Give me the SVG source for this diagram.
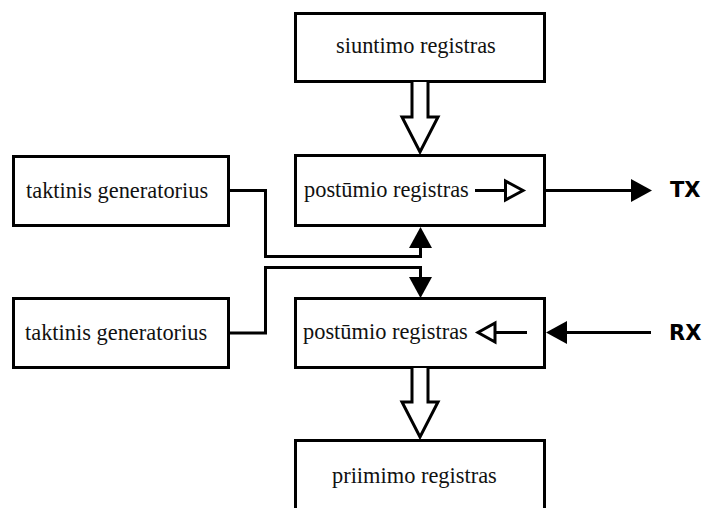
<svg xmlns="http://www.w3.org/2000/svg" width="706" height="508" viewBox="0 0 706 508">
  <style>
    .box { fill: #fff; stroke: #000; stroke-width: 3; }
    .lbl { font-family: "Liberation Serif", "Times New Roman", serif; font-size: 22.4px; fill: #111; }
    .sig { font-family: "DejaVu Sans", sans-serif; font-weight: bold; font-size: 21px; fill: #000; }
    .wire { fill: none; stroke: #000; stroke-width: 3; stroke-linejoin: miter; }
    .bus { fill: #fff; stroke: #000; stroke-width: 3; stroke-linejoin: miter; }
    .hollow { fill: #fff; stroke: #000; stroke-width: 3; stroke-linejoin: miter; }
  </style>
  <defs>
    <marker id="head" markerUnits="userSpaceOnUse" markerWidth="22" markerHeight="24" refX="0" refY="11.5" orient="auto">
      <path d="M0,0 L21,11.5 L0,23 z" fill="#000"/>
    </marker>
  </defs>

  <rect width="706" height="508" fill="#fff"/>

  <g id="siuntimo-registras">
    <rect class="box" x="295.5" y="13.5" width="249" height="68"/>
    <text class="lbl" x="336" y="53">siuntimo registras</text>
  </g>

  <g id="tx-postumio-registras">
    <rect class="box" x="295.5" y="155.5" width="249" height="70"/>
    <text class="lbl" x="304" y="197">postūmio registras</text>
    <line class="wire" x1="475" y1="190.5" x2="505" y2="190.5"/>
    <polygon class="hollow" points="505.5,181 523,190.5 505.5,200"/>
  </g>

  <g id="taktinis-generatorius-1">
    <rect class="box" x="13.5" y="156.5" width="215" height="69"/>
    <text class="lbl" x="26" y="198">taktinis generatorius</text>
  </g>

  <g id="taktinis-generatorius-2">
    <rect class="box" x="13.5" y="298.5" width="215" height="69"/>
    <text class="lbl" x="25" y="340">taktinis generatorius</text>
  </g>

  <g id="rx-postumio-registras">
    <rect class="box" x="295.5" y="298.5" width="249" height="69"/>
    <text class="lbl" x="303" y="339">postūmio registras</text>
    <line class="wire" x1="527" y1="332.5" x2="495" y2="332.5"/>
    <polygon class="hollow" points="495,323 478,332.5 495,342"/>
  </g>

  <g id="priimimo-registras">
    <path class="box" d="M295.5,512 V440.5 H544.5 V512"/>
    <text class="lbl" x="332" y="483">priimimo registras</text>
  </g>

  <g id="connectors">
    <!-- parallel buses -->
    <path class="bus" d="M412,82 V117 H402 L420,152 L438,117 H428 V82"/>
    <path class="bus" d="M412,368 V402 H402 L420,437 L438,402 H428 V368"/>
    <!-- clock lines -->
    <path class="wire" d="M228,190.5 H265.5 V256.5 H420.5 V248" marker-end="url(#head)"/>
    <path class="wire" d="M228,333 H265.5 V267.5 H420.5 V277" marker-end="url(#head)"/>
    <!-- serial lines -->
    <line class="wire" x1="545" y1="190.5" x2="631" y2="190.5" marker-end="url(#head)"/>
    <line class="wire" x1="651" y1="332.5" x2="567" y2="332.5" marker-end="url(#head)"/>
  </g>

  <g id="tx-label"><text class="sig" x="670" y="197">TX</text></g>
  <g id="rx-label"><text class="sig" x="669" y="340">RX</text></g>
</svg>
